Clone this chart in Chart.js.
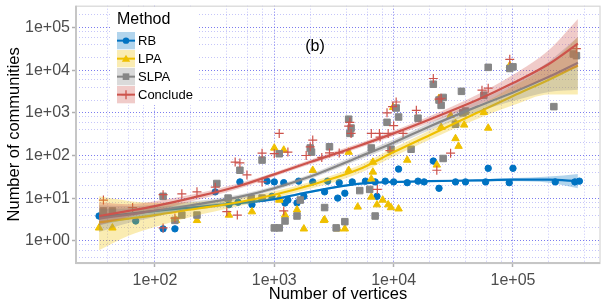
<!DOCTYPE html>
<html><head><meta charset="utf-8">
<script src="https://cdn.jsdelivr.net/npm/chart.js@4"></script>
<style>html,body{margin:0;padding:0;background:#fff;}canvas{display:block;}</style>
</head><body>
<canvas id="c" width="606" height="306"></canvas>
<script>
const FONT = '"Liberation Sans", Arial, Helvetica, sans-serif';
const methods = ['RB', 'LPA', 'SLPA', 'Conclude'];
const colors = ['#0073C2', '#EFC000', '#868686', '#CD534C'];
const bandColors = ['rgba(0,115,194,0.3)', 'rgba(239,192,0,0.3)', 'rgba(134,134,134,0.3)', 'rgba(205,83,76,0.3)'];

// axis ticks (grid at 1,2,4,6,8 x 10^n; labels only on decades)
const xTicks = [40,60,80,100,200,400,600,800,1000,2000,4000,6000,8000,10000,20000,40000,60000,80000,100000,200000,400000];
const xMajor = [100,1000,10000,100000];
const xTickLabels = ['1e+02','1e+03','1e+04','1e+05'];
const yTicks = [0.4,0.6,0.8,1,2,4,6,8,10,20,40,60,80,100,200,400,600,800,1000,2000,4000,6000,8000,10000,20000,40000,60000,80000,100000,200000];
const yMajor = [1,10,100,1000,10000,100000];
const yTickLabels = ['1e+00','1e+01','1e+02','1e+03','1e+04','1e+05'];

// observed points
const rbX = [34,117,147,69,320,417,497,650,515,955,1230,1300,1550,1770,2640,3400,3900,7250,11000,21500,24000,62000,100000,870,1000,1200,1600,2100,2800,3500,4500,5800,7000,8500,10000,13000,16000,18000,33000,40000,59000,93000,226000,330000,360000];
const rbY = [3.8,1.9,1.9,2.9,14,7,8,7,24,11,7.7,9,7.7,11,14,10,13,11,48,74,17,50,50,25,24,23,25,24,25,23,24,25,24,25,24,23,25,24,24,24,24,23,24,24,25];

const lpaX = [34,44,150,225,417,650,1100,1100,1230,1550,1770,2640,3400,3900,5000,6500,7250,8100,9000,9500,11000,6700,6700,6500,4200,4200,2100,1000,1200,23000,9900,24000,30000,33000,39000,25000,33000,35000,57000,62000,94000,13000,2600];
const lpaY = [2,2,3,3,4,4.8,9,10,4,5.3,1.9,3.1,1.9,1.9,6.2,10.6,7,9,7,6,5.6,70,41,28,120,45,45,150,134,60,1350,2200,870,570,520,460,250,165,1030,440,13000,78,3];

const slpaX = [37,44,117,147,168,225,330,410,515,640,790,790,1000,1100,1230,1100,1550,1650,2000,2050,2640,2900,3300,3900,4200,4400,4300,5200,6300,6500,7000,8800,9500,10500,11000,14000,16000,21500,24000,26000,25000,26000,37000,38000,40000,33000,57000,62000,94000,100000,220000,320000,340000];
const slpaY = [5,5,11,3,4,4,22,10,45,10,78,10,2,2,2.9,110,3.8,9,150,120,6,160,2,2.8,710,440,330,15,16,150,3.8,600,140,1300,800,140,750,4700,2000,2300,1500,85,3200,1000,1100,540,2600,11700,11000,12000,1400,24000,22000];

const conX = [37,65,117,117,168,225,147,320,400,490,470,515,590,790,790,1000,1100,1200,1300,1850,2000,2100,2500,2900,3500,4300,4200,4400,6500,7600,7700,7300,8800,9000,9300,9800,10000,12000,10500,15500,21500,24000,25000,23000,30000,55000,62000,94000,340000];
const conY = [9,6,12,2,12.6,14,3.4,18,4.8,4,70,67,35,113,24,110,330,5,120,100,160,230,90,115,115,600,490,330,330,330,270,16,1000,330,130,1400,500,330,1800,1150,6400,2100,2200,45,113,3400,3800,18000,32000];

// smoothed fits with confidence bands
const fitX = [34,60,100,200,500,1000,2000,5000,10000,20000,50000,100000,200000,350000];
const rbFit = [3.6,4.3,5.0,6.0,7.6,9.5,14,21.5,24,25,26,27,27,25];
const rbLo  = [2.3,3.2,4.0,5.2,6.9,8.8,13.2,20.5,23,24,24.5,24.8,23,17];
const rbHi  = [5.6,5.7,6.2,6.9,8.4,10.3,14.8,22.5,25,26,27.5,29.5,32,37];
const lpaFit = [2.7,3.3,4.0,5.4,8.0,12,20,46,120,300,1000,2500,6000,13000];
const lpaLo  = [0.6,1.3,2.1,3.6,6.4,10,16.5,37,95,235,720,1500,2700,2700];
const lpaHi  = [11,8.6,7.8,8.0,10,14.4,24,57,150,385,1400,4200,13500,60000];
const slpaFit = [3.3,4.1,5.0,6.8,10.5,17,32,90,200,480,1400,3000,7000,15000];
const slpaLo  = [1.6,2.6,3.6,5.6,9.2,15,28,77,168,390,1050,1900,3100,3500];
const slpaHi  = [6.8,6.5,7.0,8.3,12,19.3,36.5,105,238,590,1870,4700,16000,60000];
const conFit = [3.8,5.0,6.5,10,19,36,70,165,330,700,2000,5000,14000,42000];
const conLo  = [2.3,3.6,5.0,8.3,16.5,32,62,145,285,590,1500,3200,6500,12000];
const conHi  = [8.0,7.2,8.4,12,22,40,79,188,380,830,2650,7800,30000,160000];

const pts = (xs, ys) => xs.map((x, i) => ({x: x, y: ys[i]}));
const fits = [[rbFit, rbLo, rbHi], [lpaFit, lpaLo, lpaHi], [slpaFit, slpaLo, slpaHi], [conFit, conLo, conHi]];
const ptSets = [[rbX, rbY], [lpaX, lpaY], [slpaX, slpaY], [conX, conY]];
const ptStyle = [
  {pointStyle: 'circle', radius: 3.2, bw: 1},
  {pointStyle: 'triangle', radius: 4.3, bw: 1},
  {pointStyle: 'rect', radius: 4.6, bw: 1},
  {pointStyle: 'cross', radius: 4.5, bw: 1.2}
];

const datasets = [];
let ord = 100;
for (let m = 0; m < 4; m++) {
  const s = ptStyle[m];
  datasets.push({
    label: methods[m], data: pts(ptSets[m][0], ptSets[m][1]), order: ord--,
    showLine: false, pointStyle: s.pointStyle, pointRadius: s.radius, pointHoverRadius: s.radius,
    pointBackgroundColor: colors[m], pointBorderColor: colors[m], pointBorderWidth: s.bw
  });
}
for (let m = 0; m < 4; m++) {
  const [f, lo, hi] = fits[m];
  const common = {showLine: true, pointRadius: 0, pointHoverRadius: 0, cubicInterpolationMode: 'monotone'};
  datasets.push(Object.assign({label: methods[m] + ' lo', data: pts(fitX, lo), order: ord--, borderWidth: 0, borderColor: 'rgba(0,0,0,0)', fill: false}, common));
  datasets.push(Object.assign({label: methods[m] + ' hi', data: pts(fitX, hi), order: ord--, borderWidth: 0, borderColor: 'rgba(0,0,0,0)', fill: '-1', backgroundColor: bandColors[m]}, common));
  datasets.push(Object.assign({label: methods[m] + ' fit', data: pts(fitX, f), order: ord--, borderWidth: 2.2, borderColor: colors[m], fill: false}, common));
}

const isIn = (v, arr) => arr.some(a => Math.abs(a - v) / a < 1e-6);
const gridColor = (majors) => (ctx) => (ctx.tick && isIn(ctx.tick.value, majors)) ? 'rgba(90,90,235,0.8)' : 'rgba(120,120,240,0.42)';
const tickColor = (majors) => (ctx) => (ctx.tick && isIn(ctx.tick.value, majors)) ? '#b0b0b0' : 'rgba(0,0,0,0)';

const deco = {
  id: 'deco',
  afterDraw(chart) {
    const ctx = chart.ctx, a = chart.chartArea;
    ctx.save();
    // panel border
    ctx.strokeStyle = '#d6d6d6'; ctx.lineWidth = 1.2;
    ctx.strokeRect(a.left, a.top + 0.5, a.right - a.left, a.bottom - a.top);
    ctx.strokeStyle = '#c6c6c6'; ctx.lineWidth = 2;
    ctx.beginPath();
    ctx.moveTo(a.left, a.top); ctx.lineTo(a.left, a.bottom); ctx.lineTo(a.right, a.bottom);
    ctx.stroke();

    // annotation
    ctx.fillStyle = '#000'; ctx.font = '16px ' + FONT; ctx.textAlign = 'center'; ctx.textBaseline = 'middle';
    ctx.fillText('(b)', 315, 47);

    // axis titles
    ctx.font = '16.5px ' + FONT;
    ctx.fillText('Number of vertices', (a.left + a.right) / 2, 294);
    ctx.save();
    ctx.translate(14, (a.top + a.bottom) / 2);
    ctx.rotate(-Math.PI / 2);
    ctx.fillText('Number of communities', 0, 0);
    ctx.restore();

    // legend
    ctx.fillStyle = '#fff'; ctx.fillRect(112, 8, 86, 97);
    ctx.fillStyle = '#000'; ctx.font = '16px ' + FONT; ctx.textAlign = 'left'; ctx.textBaseline = 'alphabetic';
    ctx.fillText('Method', 117, 24);
    for (let m = 0; m < 4; m++) {
      const y0 = 32 + m * 18, kx = 117, kw = 18, kh = 17.3, cy = y0 + kh / 2, cx = kx + kw / 2;
      ctx.fillStyle = bandColors[m]; ctx.fillRect(kx, y0, kw, kh);
      ctx.strokeStyle = colors[m]; ctx.lineWidth = 2;
      ctx.beginPath(); ctx.moveTo(kx, cy); ctx.lineTo(kx + kw, cy); ctx.stroke();
      ctx.fillStyle = colors[m];
      ctx.beginPath();
      if (m === 0) { ctx.arc(cx, cy, 3.2, 0, Math.PI * 2); ctx.fill(); }
      else if (m === 1) { ctx.moveTo(cx, cy - 4); ctx.lineTo(cx + 4.2, cy + 3); ctx.lineTo(cx - 4.2, cy + 3); ctx.closePath(); ctx.fill(); }
      else if (m === 2) { ctx.fillRect(cx - 3.3, cy - 3.3, 6.6, 6.6); }
      else { ctx.lineWidth = 1.3; ctx.moveTo(cx - 4.5, cy); ctx.lineTo(cx + 4.5, cy); ctx.moveTo(cx, cy - 4.5); ctx.lineTo(cx, cy + 4.5); ctx.stroke(); }
      ctx.fillStyle = '#000'; ctx.font = '13px ' + FONT; ctx.textBaseline = 'middle';
      ctx.fillText(methods[m], 138, cy + 0.5);
      ctx.textBaseline = 'alphabetic';
    }
    ctx.restore();
  }
};

new Chart(document.getElementById('c'), {
  type: 'scatter',
  data: {datasets: datasets},
  options: {
    responsive: false, animation: false, devicePixelRatio: 1,
    layout: {padding: {left: 0, right: 6, top: 5, bottom: 0}},
    plugins: {legend: {display: false}, tooltip: {enabled: false}},
    scales: {
      x: {
        type: 'logarithmic', min: 21.8, max: 536000,
        afterBuildTicks: (s) => { s.ticks = xTicks.map(v => ({value: v})); },
        afterFit: (s) => { s.height = 43; s.paddingLeft = 0; s.paddingRight = 0; },
        ticks: {autoSkip: false, maxRotation: 0, minRotation: 0, padding: 4, color: '#4D4D4D',
          font: {family: FONT, size: 16},
          callback: (v) => { const i = xMajor.findIndex(a => Math.abs(a - v) / a < 1e-6); return i >= 0 ? xTickLabels[i] : ''; }},
        grid: {color: gridColor(xMajor), lineWidth: 1, drawTicks: true, tickLength: 4, tickColor: tickColor(xMajor), tickWidth: 1.5, tickBorderDash: []},
        border: {display: false, dash: [1, 2]}
      },
      y: {
        type: 'logarithmic', min: 0.306, max: 327000,
        afterBuildTicks: (s) => { s.ticks = yTicks.map(v => ({value: v})); },
        afterFit: (s) => { s.width = 76; s.paddingTop = 0; s.paddingBottom = 0; },
        ticks: {autoSkip: false, padding: 2, color: '#4D4D4D',
          font: {family: FONT, size: 16},
          callback: (v) => { const i = yMajor.findIndex(a => Math.abs(a - v) / a < 1e-6); return i >= 0 ? yTickLabels[i] : ''; }},
        grid: {color: gridColor(yMajor), lineWidth: 1, drawTicks: true, tickLength: 4, tickColor: tickColor(yMajor), tickWidth: 1.5, tickBorderDash: []},
        border: {display: false, dash: [1, 2]}
      }
    }
  },
  plugins: [deco]
});
</script>
</body></html>
